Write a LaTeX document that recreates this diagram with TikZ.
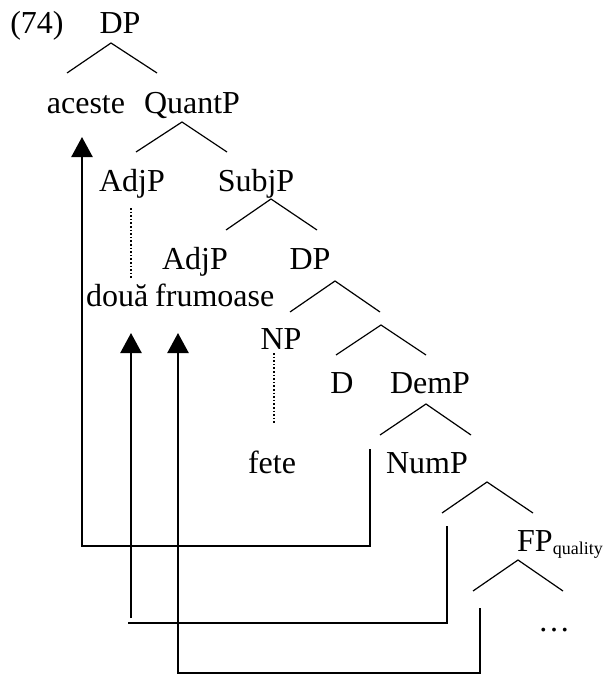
\documentclass[tikz,border=0pt]{standalone}
\usepackage{fontspec}
\setmainfont{Liberation Serif}
\usetikzlibrary{arrows.meta}
\begin{document}
\begin{tikzpicture}[x=1pt,y=-1pt,
  lbl/.style={inner sep=0pt,anchor=base,font=\fontsize{32}{36}\selectfont},
  branch/.style={line width=1.2pt},
  trace/.style={dotted,line width=1.6pt},
  mv/.style={line width=2.4pt},
  mvarrow/.style={line width=2.4pt,-{Triangle[length=20pt,width=21pt]}}]
\useasboundingbox (0,0) rectangle (603,677);
% labels
\node[lbl] (ex) at (37,34) {(74)};
\node[lbl] (dp1) at (120,34) {DP};
\node[lbl] (aceste) at (86,113) {aceste};
\node[lbl] (quantp) at (192,113) {QuantP};
\node[lbl] (adjp1) at (132,191) {AdjP};
\node[lbl] (subjp) at (256,191) {SubjP};
\node[lbl] (adjp2) at (195,269) {AdjP};
\node[lbl] (dp2) at (310,269) {DP};
\node[lbl,anchor=base west] (doua) at (86,306) {două};
\node[lbl,anchor=base west] (frum) at (155,306) {frumoase};
\node[lbl] (np) at (281,349) {NP};
\node[lbl] (d) at (342,393) {D};
\node[lbl] (demp) at (430,393) {DemP};
\node[lbl] (fete) at (272,473) {fete};
\node[lbl] (nump) at (427,473) {NumP};
\node[lbl,anchor=base west] (fp) at (517,551) {FP\textsubscript{\fontsize{18}{20}\selectfont quality}};
\node[lbl] (dots) at (554,631) {\dots};
% branches
\coordinate (a1) at (111,43);
\draw[branch] (67,73) -- (a1) -- (157,73);
\coordinate (a2) at (182,122);
\draw[branch] (136,152) -- (a2) -- (227,152);
\coordinate (a3) at (271,199);
\draw[branch] (226,230) -- (a3) -- (317,230);
\coordinate (a4) at (335,281);
\draw[branch] (290,312) -- (a4) -- (380,312);
\coordinate (a5) at (381,325);
\draw[branch] (336,355) -- (a5) -- (426,355);
\coordinate (a6) at (426,404);
\draw[branch] (380,435) -- (a6) -- (471,435);
\coordinate (a7) at (487,482);
\draw[branch] (442,513) -- (a7) -- (533,513);
\coordinate (a8) at (518,560);
\draw[branch] (473,591) -- (a8) -- (563,591);
% dotted traces
\draw[trace] (131,208) -- (131,279);
\draw[trace] (274,353) -- (274,423);
% movement lines
\coordinate (t1) at (370,449);
\coordinate (t2) at (447,526);
\coordinate (t3) at (480,608);
\draw[mvarrow] (t1) -- (370,546) -- (82,546) -- (82,137);
\draw[mv] (t2) -- (447,623) -- (128,623);
\draw[mvarrow] (131,618) -- (131,333);
\draw[mvarrow] (t3) -- (480,673) -- (178,673) -- (178,333);
\end{tikzpicture}
\end{document}
